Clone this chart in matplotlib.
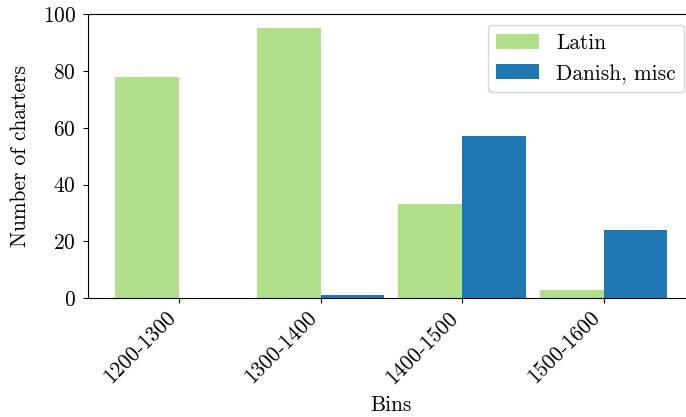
import numpy as np
import matplotlib
matplotlib.use("Agg")
import matplotlib.pyplot as plt

plt.rcParams['font.family'] = 'cmr10'
plt.rcParams['mathtext.fontset'] = 'cm'
plt.rcParams['axes.unicode_minus'] = False
plt.rcParams['axes.formatter.use_mathtext'] = True
plt.rcParams['font.size'] = 15.4

bins = ["1200-1300", "1300-1400", "1400-1500", "1500-1600"]
latin = [78, 95, 33, 3]
danish = [0, 1, 57, 24]

width = 0.45
x = np.arange(len(bins))

fig = plt.figure(figsize=(6.86, 4.17), dpi=100)
ax = fig.add_axes([0.128, 0.285, 0.885, 0.681])

ax.bar(x - width, latin, width, align='edge', color='#b2df8a', label='Latin')
ax.bar(x, danish, width, align='edge', color='#1f78b4', label='Danish, misc')

ax.set_xticks(x)
ax.set_xticklabels(bins, rotation=45, ha='right')
ax.tick_params(axis='y', pad=5)
ax.set_xlim(-0.645, 3.645)
ax.set_ylim(0, 100)
ax.set_xlabel("Bins", labelpad=6)
ax.set_ylabel("Number of charters", labelpad=9)
ax.spines['right'].set_visible(False)
ax.legend(loc='upper right', borderaxespad=0.5)

fig.savefig("out.png", dpi=100)
